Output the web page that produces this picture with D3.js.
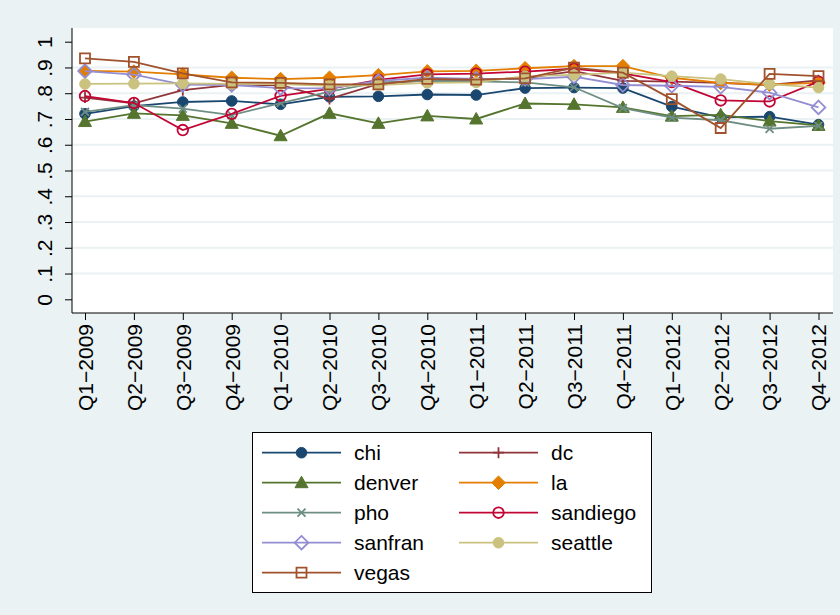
<!DOCTYPE html>
<html>
<head>
<meta charset="utf-8">
<script src="https://cdn.jsdelivr.net/npm/d3@7"></script>
<style>
  body { margin: 0; background: #eaf2f3; }
  svg { display: block; font-family: "Liberation Sans", Arial, sans-serif; }
</style>
</head>
<body>
<div id="chart-area"></div>
<script>
const quarters = ["Q1−2009", "Q2−2009", "Q3−2009", "Q4−2009", "Q1−2010", "Q2−2010", "Q3−2010", "Q4−2010",
    "Q1−2011", "Q2−2011", "Q3−2011", "Q4−2011", "Q1−2012", "Q2−2012", "Q3−2012", "Q4−2012"]
const yTicks = [0, 0.1, 0.2, 0.3, 0.4, 0.5, 0.6, 0.7, 0.8, 0.9, 1]

const chi      = [0.720, 0.750, 0.766, 0.770, 0.757, 0.786, 0.788, 0.795, 0.793, 0.820, 0.822, 0.820, 0.748, 0.706, 0.709, 0.678]
const dc       = [0.783, 0.761, 0.812, 0.832, 0.832, 0.778, 0.836, 0.850, 0.852, 0.858, 0.886, 0.848, 0.845, 0.840, 0.832, 0.850]
const denver   = [0.690, 0.722, 0.714, 0.683, 0.635, 0.722, 0.683, 0.712, 0.700, 0.760, 0.757, 0.745, 0.711, 0.716, 0.692, 0.675]
const la       = [0.887, 0.884, 0.873, 0.860, 0.855, 0.860, 0.870, 0.885, 0.887, 0.897, 0.905, 0.905, 0.860, 0.840, 0.833, 0.840]
const pho      = [0.728, 0.754, 0.740, 0.715, 0.762, 0.806, 0.842, 0.848, 0.846, 0.842, 0.823, 0.742, 0.705, 0.695, 0.662, 0.673]
const sandiego = [0.789, 0.762, 0.657, 0.720, 0.790, 0.817, 0.852, 0.873, 0.876, 0.884, 0.895, 0.877, 0.843, 0.772, 0.768, 0.845]
const sanfran  = [0.886, 0.872, 0.833, 0.832, 0.820, 0.819, 0.848, 0.860, 0.856, 0.855, 0.864, 0.832, 0.829, 0.825, 0.802, 0.745]
const seattle  = [0.836, 0.837, 0.838, 0.836, 0.835, 0.829, 0.832, 0.840, 0.842, 0.866, 0.871, 0.880, 0.866, 0.855, 0.835, 0.822]
const vegas    = [0.935, 0.922, 0.877, 0.842, 0.840, 0.834, 0.834, 0.856, 0.853, 0.858, 0.899, 0.880, 0.777, 0.665, 0.875, 0.866]

const series = [
    { name: "chi", values: chi, color: "#1a476f", shape: "circle", fill: true },
    { name: "dc", values: dc, color: "#90353b", shape: "plus", fill: false },
    { name: "denver", values: denver, color: "#55752f", shape: "triangle", fill: true },
    { name: "la", values: la, color: "#e37e00", shape: "diamond", fill: true },
    { name: "pho", values: pho, color: "#6e8e84", shape: "x", fill: false },
    { name: "sandiego", values: sandiego, color: "#c10534", shape: "circle", fill: false },
    { name: "sanfran", values: sanfran, color: "#938dd2", shape: "diamond", fill: false },
    { name: "seattle", values: seattle, color: "#cac27e", shape: "circle", fill: true },
    { name: "vegas", values: vegas, color: "#a0522d", shape: "square", fill: false }
]

const W = 840, H = 615
const PLOT = { LEFT: 72, RIGHT: 833, TOP: 28, BOTTOM: 313 }

const svg = d3.select("#chart-area").append("svg")
    .attr("width", W)
    .attr("height", H)

svg.append("rect")
    .attr("width", W).attr("height", H)
    .attr("fill", "#eaf2f3")

svg.append("rect")
    .attr("x", PLOT.LEFT).attr("y", PLOT.TOP)
    .attr("width", PLOT.RIGHT - PLOT.LEFT)
    .attr("height", PLOT.BOTTOM - PLOT.TOP)
    .attr("fill", "white")

// Scales
const x = d3.scalePoint()
    .domain(quarters)
    .range([85, 818.5])

const y = d3.scaleLinear()
    .domain([0, 1])
    .range([299.3, 41.7])

// Grid
svg.append("g")
    .selectAll("line")
    .data(yTicks.filter(t => t > 0 && t < 1))
    .enter().append("line")
    .attr("x1", PLOT.LEFT).attr("x2", PLOT.RIGHT)
    .attr("y1", d => y(d)).attr("y2", d => y(d))
    .attr("stroke", "#eaf2f3")
    .attr("stroke-width", 2)

// Y Axis
const fmt = d => d === 0 ? "0" : d === 1 ? "1" : d3.format(".1f")(d).replace("0.", ".")
const yAxis = svg.append("g")
    .attr("transform", `translate(${PLOT.LEFT}, 0)`)
    .call(d3.axisLeft(y).tickValues(yTicks).tickFormat(fmt).tickSize(7).tickSizeOuter(0))
yAxis.select(".domain").attr("d", `M0,${PLOT.TOP}V${PLOT.BOTTOM}`).attr("stroke", "#000")
yAxis.selectAll(".tick line").attr("stroke", "#000")
yAxis.selectAll(".tick text")
    .attr("transform", "rotate(-90)")
    .attr("x", 0)
    .attr("y", -20)
    .attr("dy", 0)
    .attr("text-anchor", "middle")
    .attr("font-size", "21px")
    .attr("font-family", "Liberation Sans, Arial, sans-serif")
    .attr("fill", "#000")

// X Axis
const xAxis = svg.append("g")
    .attr("transform", `translate(0, ${PLOT.BOTTOM})`)
    .call(d3.axisBottom(x).tickSize(7).tickSizeOuter(0))
xAxis.select(".domain").attr("d", `M${PLOT.LEFT},0H${PLOT.RIGHT}`).attr("stroke", "#000")
xAxis.selectAll(".tick line").attr("stroke", "#000")
xAxis.selectAll(".tick text")
    .attr("transform", "rotate(-90)")
    .attr("x", -11)
    .attr("y", 0)
    .attr("dy", "0.35em")
    .attr("text-anchor", "end")
    .attr("font-size", "21px")
    .attr("font-family", "Liberation Sans, Arial, sans-serif")
    .attr("fill", "#000")

// Marker paths, centred at 0,0
function markerPath(shape) {
    if (shape === "circle") return "M5.3,0A5.3,5.3 0 1,1 -5.3,0A5.3,5.3 0 1,1 5.3,0Z"
    if (shape === "triangle") return "M0,-6.5L6.5,5L-6.5,5Z"
    if (shape === "diamond") return "M0,-6.8L6.8,0L0,6.8L-6.8,0Z"
    if (shape === "square") return "M-5,-5H5V5H-5Z"
    if (shape === "plus") return "M-5.5,0H5.5M0,-5.5V5.5"
    if (shape === "x") return "M-4,-4L4,4M-4,4L4,-4"
}

function drawMarker(sel, s) {
    sel.append("path")
        .attr("d", markerPath(s.shape))
        .attr("fill", s.fill ? s.color : "none")
        .attr("stroke", s.color)
        .attr("stroke-width", s.fill ? 1 : 1.8)
}

const line = d3.line()
    .x((d, i) => x(quarters[i]))
    .y(d => y(d))

series.forEach(s => {
    const g = svg.append("g")
    g.append("path")
        .datum(s.values)
        .attr("d", line)
        .attr("fill", "none")
        .attr("stroke", s.color)
        .attr("stroke-width", 1.8)
    g.selectAll("g.mk")
        .data(s.values)
        .enter().append("g")
        .attr("class", "mk")
        .attr("transform", (d, i) => `translate(${x(quarters[i])}, ${y(d)})`)
        .each(function() { drawMarker(d3.select(this), s) })
})

// Legend
const legend = svg.append("g")
legend.append("rect")
    .attr("x", 252.5).attr("y", 432.5)
    .attr("width", 399).attr("height", 160)
    .attr("fill", "white")
    .attr("stroke", "#000")
    .attr("stroke-width", 1)

series.forEach((s, i) => {
    const col = i % 2, row = Math.floor(i / 2)
    const lx = 262 + col * 197, ly = 452.7 + row * 30
    const item = legend.append("g")
    item.append("line")
        .attr("x1", lx).attr("x2", lx + 79)
        .attr("y1", ly).attr("y2", ly)
        .attr("stroke", s.color)
        .attr("stroke-width", 1.8)
    const mk = item.append("g").attr("transform", `translate(${lx + 39.5}, ${ly})`)
    drawMarker(mk, s)
    item.append("text")
        .attr("x", lx + 92)
        .attr("y", ly)
        .attr("dy", "0.35em")
        .attr("font-size", "21px")
        .attr("fill", "#000")
        .text(s.name)
})
</script>
</body>
</html>
